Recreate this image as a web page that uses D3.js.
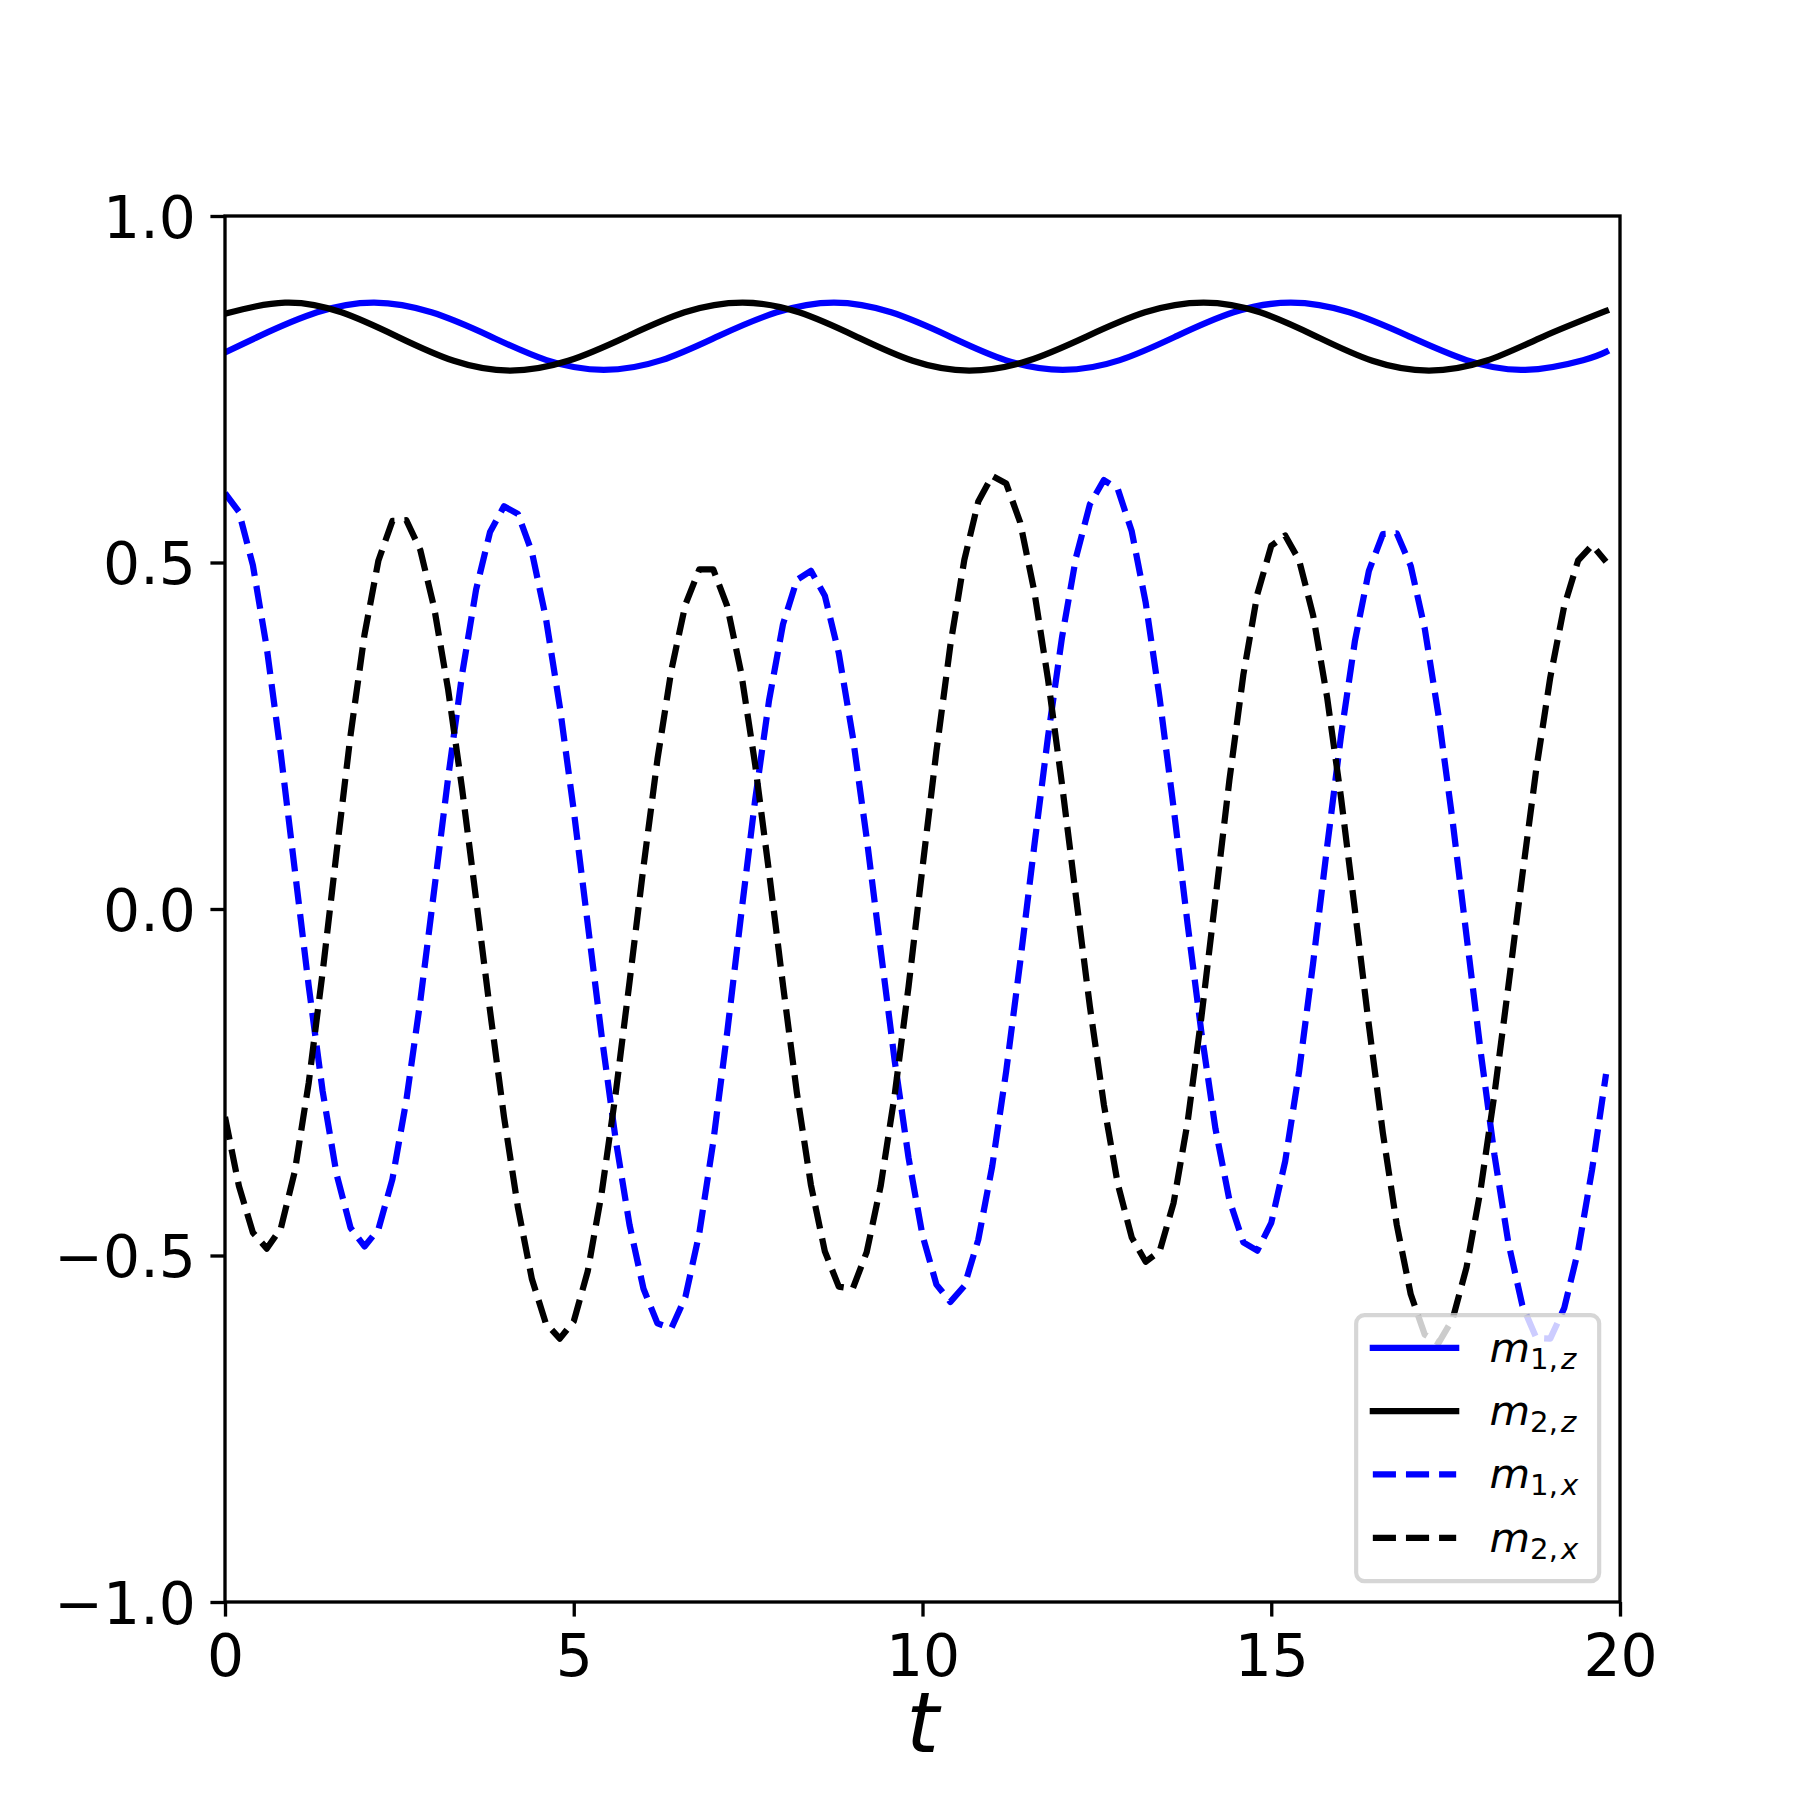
<!DOCTYPE html>
<html>
<head>
<meta charset="utf-8">
<script src="https://cdn.jsdelivr.net/npm/d3@7"></script>
<style>
  body { margin: 0; background: #fff; }
  svg { display: block; }
  text { font-family: "DejaVu Sans", sans-serif; }
</style>
</head>
<body>
<svg id="chart" width="1800" height="1800"></svg>
<script>
// ---- data ----

// sample times of the dashed (x component) curves
const T = [0,0.2,0.4,0.6,0.8,1,1.2,1.4,1.6,1.8,2,2.2,2.4,2.6,2.8,3,3.2,3.4,3.6,3.8,
           4,4.2,4.4,4.6,4.8,5,5.2,5.4,5.6,5.8,6,6.2,6.4,6.6,6.8,7,7.2,7.4,7.6,7.8,
           8,8.2,8.4,8.6,8.8,9,9.2,9.4,9.6,9.8,10,10.2,10.4,10.6,10.8,11,11.2,11.4,11.6,11.8,
           12,12.2,12.4,12.6,12.8,13,13.2,13.4,13.6,13.8,14,14.2,14.4,14.6,14.8,15,15.2,15.4,15.6,15.8,
           16,16.2,16.4,16.6,16.8,17,17.2,17.4,17.6,17.8,18,18.2,18.4,18.6,18.8,19,19.2,19.4,19.6,19.8];

const m1x = [0.600,0.573,0.496,0.376,0.224,0.057,-0.111,-0.263,-0.383,-0.460,
             -0.487,-0.462,-0.390,-0.276,-0.133,0.028,0.190,0.339,0.461,0.544,
             0.581,0.570,0.515,0.420,0.292,0.142,-0.021,-0.183,-0.332,-0.456,
             -0.548,-0.598,-0.605,-0.560,-0.468,-0.336,-0.178,-0.008,0.157,0.301,
             0.411,0.475,0.488,0.452,0.369,0.249,0.102,-0.059,-0.218,-0.359,
             -0.471,-0.542,-0.567,-0.544,-0.477,-0.371,-0.234,-0.077,0.089,0.249,
             0.392,0.507,0.584,0.619,0.606,0.545,0.442,0.304,0.146,-0.021,
             -0.179,-0.317,-0.420,-0.481,-0.493,-0.453,-0.364,-0.234,-0.078,0.089,
             0.250,0.387,0.488,0.541,0.542,0.495,0.405,0.278,0.127,-0.039,
             -0.204,-0.355,-0.482,-0.572,-0.619,-0.620,-0.576,-0.493,-0.376,-0.238];

const m2x = [-0.300,-0.400,-0.467,-0.490,-0.461,-0.379,-0.251,-0.091,0.082,0.251,
             0.396,0.503,0.560,0.561,0.518,0.434,0.316,0.173,0.014,-0.147,
             -0.300,-0.431,-0.534,-0.598,-0.620,-0.595,-0.523,-0.410,-0.267,-0.105,
             0.061,0.216,0.345,0.439,0.490,0.490,0.437,0.341,0.209,0.053,
             -0.110,-0.266,-0.398,-0.494,-0.545,-0.548,-0.495,-0.400,-0.269,-0.112,
             0.060,0.228,0.381,0.504,0.588,0.625,0.614,0.558,0.460,0.331,
             0.180,0.018,-0.141,-0.282,-0.397,-0.474,-0.509,-0.494,-0.424,-0.308,
             -0.155,0.015,0.186,0.338,0.454,0.524,0.539,0.503,0.424,0.306,
             0.161,-0.002,-0.168,-0.323,-0.456,-0.556,-0.614,-0.626,-0.592,-0.517,
             -0.406,-0.267,-0.111,0.049,0.202,0.334,0.437,0.503,0.525,0.501];

// z components are smooth: read at turning points, mid-levels and in between
const m1zT = [0, 0.5, 1.32, 2.14, 2.96, 3.79, 4.61, 5.43, 6.26, 7.08, 7.91, 8.73, 9.55,
              10.37, 11.19, 12.01, 12.83, 13.65, 14.46, 15.28, 16.12, 16.96, 17.8, 18.64, 19.47, 19.8];
const m1z  = [0.803, 0.827, 0.861, 0.875, 0.861, 0.827, 0.792, 0.778, 0.792, 0.827, 0.861, 0.875, 0.861,
              0.827, 0.792, 0.778, 0.792, 0.827, 0.861, 0.875, 0.861, 0.827, 0.792, 0.778, 0.792, 0.804];

const m2zT = [0, 0.86, 1.67, 2.47, 3.28, 4.09, 4.92, 5.76, 6.59, 7.42, 8.23, 9.05, 9.86,
              10.67, 11.51, 12.35, 13.19, 14.03, 14.84, 15.65, 16.45, 17.26, 18.08, 18.9, 19.8];
const m2z  = [0.859, 0.875, 0.861, 0.826, 0.791, 0.777, 0.791, 0.826, 0.861, 0.875, 0.861, 0.826, 0.791,
              0.777, 0.791, 0.826, 0.861, 0.875, 0.861, 0.826, 0.791, 0.777, 0.791, 0.826, 0.863];

const xTicks = [0, 5, 10, 15, 20];
const yTicks = [-1.0, -0.5, 0.0, 0.5, 1.0];

// ---- setup ----
const W = 1800, H = 1800;
const margin = {left: 225, right: 180, top: 216, bottom: 198};
const PT = 300 / 72;                 // px per point
const LW = 1.5 * PT;                 // line width
const TICK_FS = 14 * PT;
const LEG_FS = 10 * PT;
const DASH = [3.7 * 1.5 * PT, 1.6 * 1.5 * PT].join(",");

const svg = d3.select("#chart");
svg.append("rect").attr("width", W).attr("height", H).attr("fill", "#fff");

const x = d3.scaleLinear().domain([0, 20]).range([margin.left, W - margin.right]);
const y = d3.scaleLinear().domain([-1, 1]).range([H - margin.bottom, margin.top]);

svg.append("clipPath").attr("id", "plotClip")
  .append("rect")
  .attr("x", x(0)).attr("y", y(1))
  .attr("width", x(20) - x(0)).attr("height", y(-1) - y(1));

const series = [
  {label: ["1", "z"], color: "#0000ff", dashed: false, pts: d3.zip(m1zT, m1z)},
  {label: ["2", "z"], color: "#000000", dashed: false, pts: d3.zip(m2zT, m2z)},
  {label: ["1", "x"], color: "#0000ff", dashed: true,  pts: d3.zip(T, m1x)},
  {label: ["2", "x"], color: "#000000", dashed: true,  pts: d3.zip(T, m2x)}
];

// ---- lines ----
const plot = svg.append("g").attr("clip-path", "url(#plotClip)");

series.forEach(s => {
  const line = d3.line()
    .x(d => x(d[0]))
    .y(d => y(d[1]))
    .curve(s.dashed ? d3.curveLinear : d3.curveNatural);
  plot.append("path")
    .datum(s.pts)
    .attr("d", line)
    .attr("fill", "none")
    .attr("stroke", s.color)
    .attr("stroke-width", LW)
    .attr("stroke-linejoin", "round")
    .attr("stroke-linecap", s.dashed ? "butt" : "square")
    .attr("stroke-dasharray", s.dashed ? DASH : null);
});

// ---- axes ----
const tickLen = 3.5 * PT;
const spineW = 0.8 * PT;

const xAxis = svg.append("g")
  .attr("transform", `translate(0, ${y(-1)})`)
  .call(d3.axisBottom(x).tickValues(xTicks).tickFormat(d3.format("d"))
        .tickSize(tickLen).tickSizeOuter(0).tickPadding(18));

const yAxis = svg.append("g")
  .attr("transform", `translate(${x(0)}, 0)`)
  .call(d3.axisLeft(y).tickValues(yTicks).tickFormat(d3.format(".1f"))
        .tickSize(tickLen).tickSizeOuter(0).tickPadding(tickLen));

[xAxis, yAxis].forEach(g => {
  g.select(".domain").remove();
  g.selectAll(".tick line").attr("stroke", "#000").attr("stroke-width", spineW);
  g.selectAll(".tick text")
    .attr("fill", "#000")
    .style("font-family", '"DejaVu Sans", sans-serif')
    .style("font-size", TICK_FS + "px");
});
yAxis.selectAll(".tick text").attr("dy", "0.36em");

// frame
svg.append("rect")
  .attr("x", x(0)).attr("y", y(1))
  .attr("width", x(20) - x(0)).attr("height", y(-1) - y(1))
  .attr("fill", "none")
  .attr("stroke", "#000")
  .attr("stroke-width", spineW);

// x label
svg.append("text")
  .attr("x", (x(0) + x(20)) / 2)
  .attr("y", 1752)
  .attr("text-anchor", "middle")
  .style("font-size", (20 * PT) + "px")
  .style("font-style", "italic")
  .text("t");

// ---- legend ----
const legRight = x(20) - 0.5 * LEG_FS;
const legBottom = y(-1) - 0.5 * LEG_FS;
const legW = 243, legH = 266;
const legX = legRight - legW, legY = legBottom - legH;

const legend = svg.append("g").attr("class", "legend");
legend.append("rect")
  .attr("x", legX).attr("y", legY)
  .attr("width", legW).attr("height", legH)
  .attr("rx", 0.2 * LEG_FS).attr("ry", 0.2 * LEG_FS)
  .attr("fill", "#fff").attr("fill-opacity", 0.8)
  .attr("stroke", "#cccccc").attr("stroke-opacity", 0.8)
  .attr("stroke-width", 1.0 * PT);

const handleX0 = legX + 0.4 * LEG_FS;
const handleX1 = handleX0 + 2.0 * LEG_FS;
const textX = handleX1 + 0.8 * LEG_FS;
const rowY = i => legY + 32.7 + i * 63.3;

series.forEach((s, i) => {
  legend.append("line")
    .attr("x1", handleX0).attr("x2", handleX1)
    .attr("y1", rowY(i)).attr("y2", rowY(i))
    .attr("stroke", s.color)
    .attr("stroke-width", LW)
    .attr("stroke-linecap", s.dashed ? "butt" : "square")
    .attr("stroke-dasharray", s.dashed ? DASH : null);

  const t = legend.append("text")
    .attr("x", textX)
    .attr("y", rowY(i) + 14)
    .style("font-size", LEG_FS + "px");
  t.append("tspan").style("font-style", "italic").text("m");
  t.append("tspan").attr("dy", 7).style("font-size", (0.7 * LEG_FS) + "px").text(s.label[0] + ",");
  t.append("tspan").attr("dx", 3).style("font-size", (0.7 * LEG_FS) + "px")
    .style("font-style", "italic").text(s.label[1]);
});
</script>
</body>
</html>
